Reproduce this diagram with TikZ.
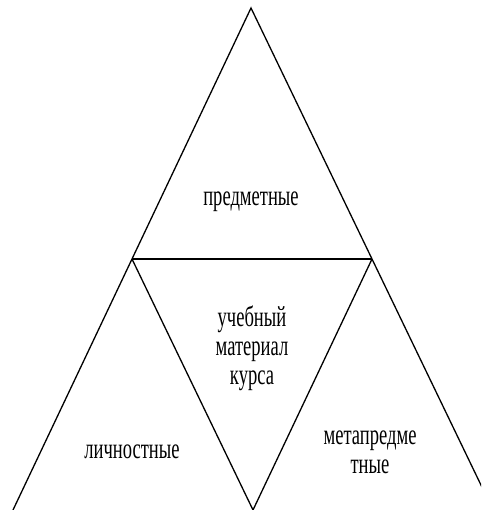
\documentclass[tikz,border=0pt]{standalone}
\usepackage{fontspec}
\newfontfamily\cf[FakeStretch=0.64]{Liberation Serif}
\begin{document}
\begin{tikzpicture}[x=1pt,y=1pt,
  edge/.style={line width=1.3pt,line join=miter},
  lbl/.style={font=\cf\fontsize{29}{29}\selectfont,align=center,inner sep=0pt}]
\useasboundingbox (0,0) rectangle (481,510);
\clip (0,0) rectangle (481,510);
\coordinate (A) at (251,502);
\coordinate (L) at (132,251);
\coordinate (R) at (372,251);
\coordinate (M) at (253,0);
\coordinate (BL) at (13,0);
\coordinate (BR) at (493,0);
\draw[edge] (BL) -- (A) -- (BR);
\draw[edge] (L) -- (R);
\draw[edge] (L) -- (M) -- (R);
\node[lbl] (p) at (251,308) {предметные};
\node[lbl] (u) at (252,162) {учебный\\материал\\курса};
\node[lbl] (l) at (132,58) {личностные};
\node[lbl] (m) at (370,58) {метапредме\\тные};
\end{tikzpicture}
\end{document}
